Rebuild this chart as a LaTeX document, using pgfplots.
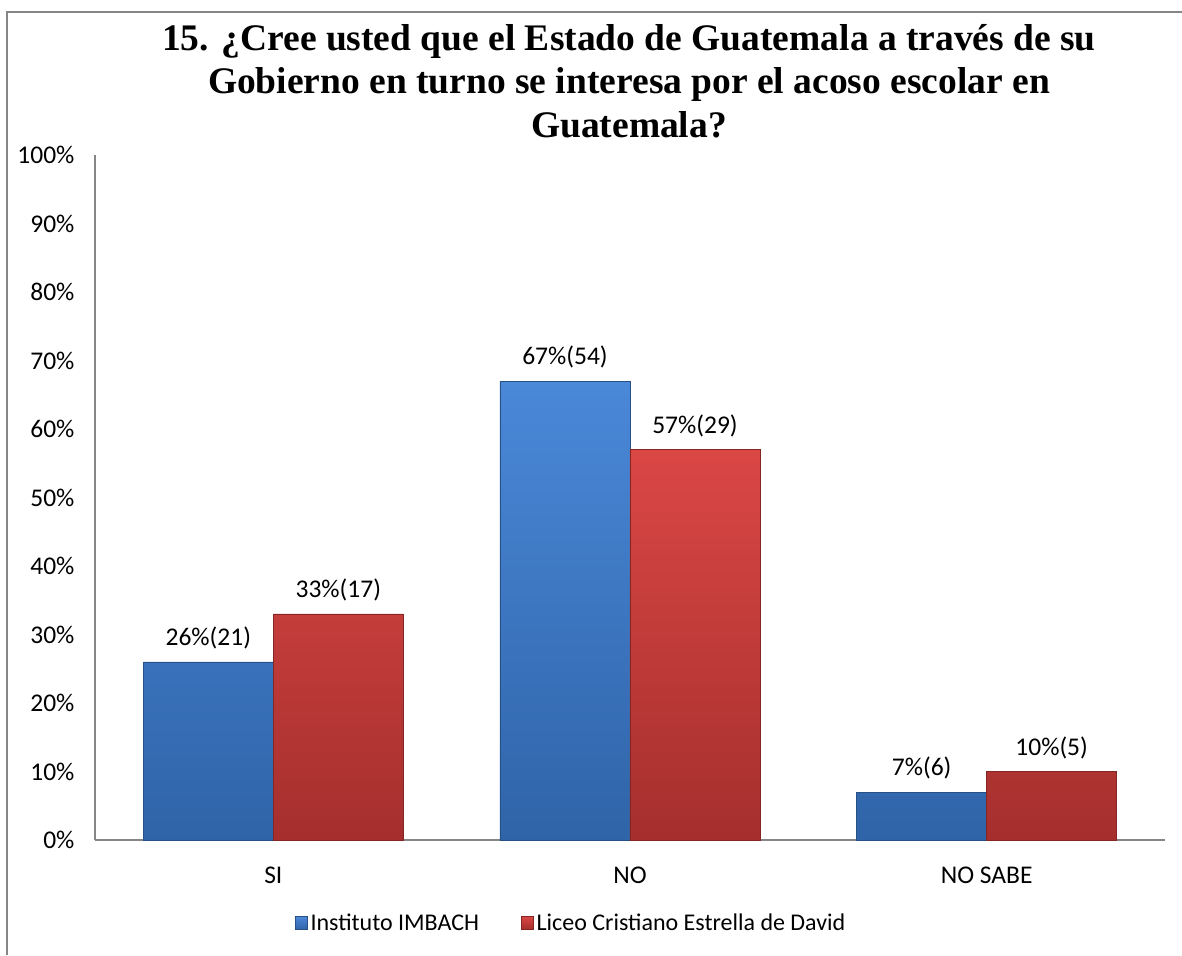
\documentclass[border=0pt]{standalone}
\usepackage{pgfplots}
\pgfplotsset{compat=1.18}
\usepackage{fontspec}
\setmainfont{Carlito}
\newfontfamily\titlefont{Liberation Serif}
\definecolor{bluetop}{HTML}{4A88D8}
\definecolor{bluebot}{HTML}{2F64A8}
\definecolor{redtop}{HTML}{DA4745}
\definecolor{redbot}{HTML}{A52F2D}
\definecolor{axgray}{HTML}{868686}
\begin{document}
\begin{tikzpicture}[x=1pt,y=1pt]
\useasboundingbox (0,0) rectangle (1182,-955);
\draw[axgray, line width=2pt] (7,-955) -- (7,-12) -- (1182,-12);
\node[font=\titlefont\bfseries\fontsize{37.5}{43.5}\selectfont, align=center, anchor=north, inner sep=0pt] at (629,-24) {15. ¿Cree usted que el Estado de Guatemala a través de su\\Gobierno en turno se interesa por el acoso escolar en\\Guatemala?};
\begin{axis}[
  at={(95pt,-840pt)}, anchor=south west,
  scale only axis, width=1070pt, height=685pt,
  xmin=-0.5, xmax=2.5, ymin=0, ymax=100,
  enlargelimits=false,
  axis x line*=bottom, axis y line*=left,
  axis line style={axgray, line width=1.5pt, -},
  major tick length=0pt,
  xtick={0,1,2}, xticklabels={SI,NO,NO SABE},
  ytick={0,10,20,30,40,50,60,70,80,90,100},
  yticklabels={0\%,10\%,20\%,30\%,40\%,50\%,60\%,70\%,80\%,90\%,100\%},
  tick label style={font=\fontsize{25.5}{30}\selectfont, text=black},
  yticklabel style={xshift=-17pt},
  xticklabel style={yshift=-23pt},
  ybar=0pt, bar width=130pt,
  nodes near coords, point meta=explicit symbolic,
  every node near coord/.append style={font=\fontsize{25.5}{30}\selectfont, text=black, yshift=9pt},
  legend style={at={(0.445,-0.121)}, anchor=center, legend columns=2, draw=none,
    font=\fontsize{24}{28}\selectfont,
    /tikz/every odd column/.append style={column sep=1pt},
    /tikz/every even column/.append style={column sep=40pt}},
  legend image code/.code={\fill[#1] (0pt,-6.5pt) rectangle (12pt,6.5pt);},
]
\addplot[top color=bluetop, bottom color=bluebot, draw=bluebot!80!black, line width=0.6pt]
  coordinates {(0,26) [26\%(21)] (1,67) [67\%(54)] (2,7) [7\%(6)]};
\addplot[top color=redtop, bottom color=redbot, draw=redbot!80!black, line width=0.6pt]
  coordinates {(0,33) [33\%(17)] (1,57) [57\%(29)] (2,10) [10\%(5)]};
\legend{Instituto IMBACH, Liceo Cristiano Estrella de David}
\end{axis}
\end{tikzpicture}
\end{document}
